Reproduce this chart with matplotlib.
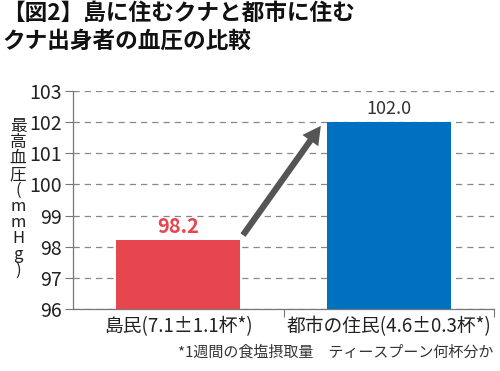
import matplotlib
matplotlib.use("Agg")
import matplotlib.pyplot as plt

plt.rcParams['font.family'] = ['Noto Sans CJK JP', 'DejaVu Sans']

categories = ["島民(7.1±1.1杯*)", "都市の住民(4.6±0.3杯*)"]
values = [98.2, 102.0]
value_labels = ["98.2", "102.0"]
bar_colors = ["#e8464f", "#0071c1"]
label_colors = ["#e8464f", "#333333"]
yticks = [96, 97, 98, 99, 100, 101, 102, 103]
title = "【図2】島に住むクナと都市に住む\nクナ出身者の血圧の比較"
ylabel = "最高血圧(mmHg)"
footnote = "*1週間の食塩摂取量　ティースプーン何杯分か"

fig = plt.figure(figsize=(5, 3.71), dpi=100)
ax = fig.add_axes([0.146, 0.167, 0.842, 0.588])

x = list(range(len(categories)))
ax.bar(x, [v - 96 for v in values], bottom=96, width=0.59, color=bar_colors, zorder=3)

for xi, v, lab, c in zip(x, values, value_labels, label_colors):
    ax.text(xi, v + 0.12, lab, ha='center', va='bottom', color=c,
            fontsize=14.5 if xi == 0 else 13,
            fontweight='bold' if xi == 0 else 'normal')

# arrow from the island bar up to the city bar
ax.annotate("", xy=(0.685, 101.95), xytext=(0.30, 98.3),
            arrowprops=dict(arrowstyle="simple,head_width=1.4,head_length=1.3,tail_width=0.45",
                            color="#555555", lw=0), zorder=4)

ax.set_xlim(-0.5, 1.5)
ax.set_ylim(96, 103)
ax.set_yticks(yticks)
ax.set_yticklabels([str(t) for t in yticks], fontsize=14, color="#222222")
ax.set_xticks(x)
ax.set_xticklabels(categories, fontsize=13.5, color="#222222")
ax.set_xticks([0.5, 1.5], minor=True)
ax.tick_params(axis='x', which='major', length=0, pad=5)
ax.tick_params(axis='x', which='minor', length=6, color="#777777", width=0.8)
ax.tick_params(axis='y', length=6, color="#777777", width=0.8, pad=2)

ax.grid(axis='y', linestyle=(0, (5, 4)), color="#888888", linewidth=0.9, zorder=0)
for s in ['top', 'right']:
    ax.spines[s].set_visible(False)
for s in ['left', 'bottom']:
    ax.spines[s].set_color("#777777")
    ax.spines[s].set_linewidth(0.9)

fig.text(0.004, 0.995, title, ha='left', va='top', fontsize=16.3,
         fontweight='bold', color="#111111", linespacing=1.3)
fig.text(0.036, 0.465, "\n".join(ylabel), ha='center', va='center',
         fontsize=12, color="#222222", linespacing=0.92)
fig.text(0.986, 0.03, footnote, ha='right', va='bottom', fontsize=10.8, color="#333333")

fig.savefig("out.png", dpi=100)
